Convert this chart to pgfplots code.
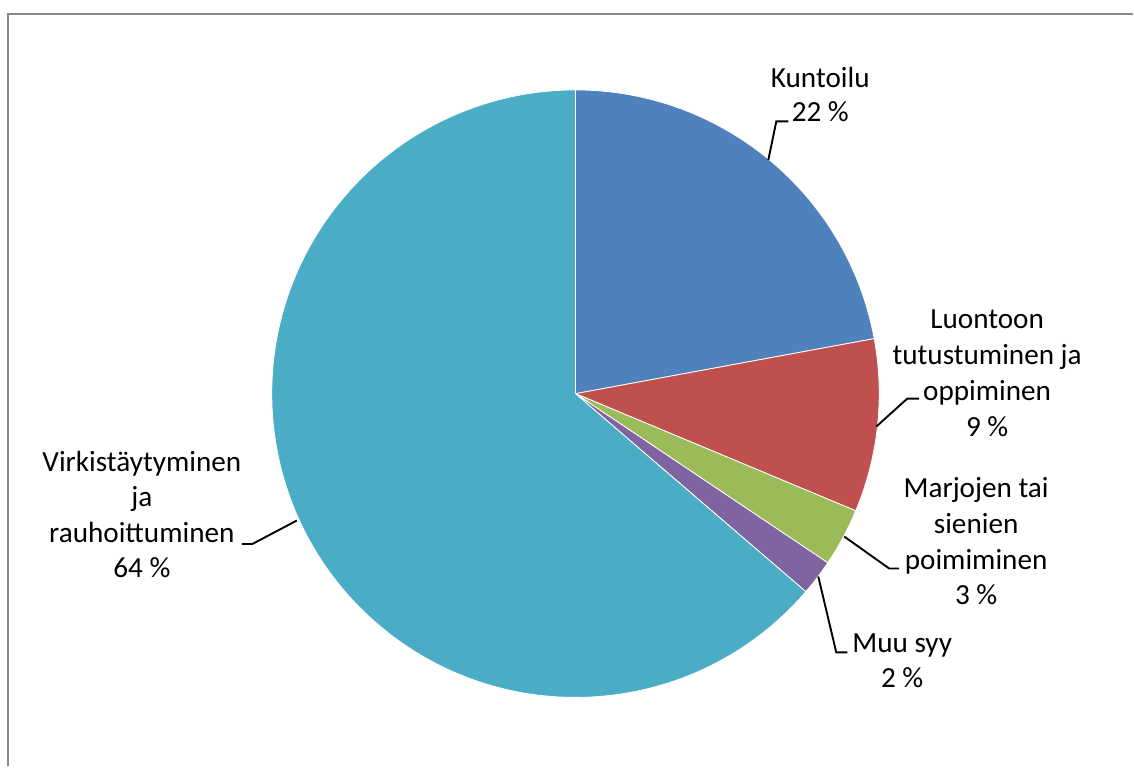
\documentclass[border=0pt]{standalone}
\usepackage{pgfplots}
\usepackage{pgfplotstable}
\pgfplotsset{compat=1.18}
\usepackage{fontspec}
\setmainfont{Carlito}
\definecolor{cA}{HTML}{4F81BD}
\definecolor{cB}{HTML}{C0504D}
\definecolor{cC}{HTML}{9BBB59}
\definecolor{cD}{HTML}{8064A2}
\definecolor{cE}{HTML}{4BACC6}
\definecolor{frame}{HTML}{878787}
\pgfplotstableread{
label value
Kuntoilu 22.1
Luontoon 9.2
Marjojen 3.1
Muu 1.9
Virkistaytyminen 63.7
}\piedata
\begin{document}
\begin{tikzpicture}
\pgfplotstablegetelem{0}{value}\of\piedata\let\vA\pgfplotsretval
\pgfplotstablegetelem{1}{value}\of\piedata\let\vB\pgfplotsretval
\pgfplotstablegetelem{2}{value}\of\piedata\let\vC\pgfplotsretval
\pgfplotstablegetelem{3}{value}\of\piedata\let\vD\pgfplotsretval
\pgfplotstablegetelem{4}{value}\of\piedata\let\vE\pgfplotsretval
\pgfmathsetmacro\tA{90}
\pgfmathsetmacro\tB{\tA-3.6*\vA}
\pgfmathsetmacro\tC{\tB-3.6*\vB}
\pgfmathsetmacro\tD{\tC-3.6*\vC}
\pgfmathsetmacro\tE{\tD-3.6*\vD}
\pgfmathsetmacro\tF{\tE-3.6*\vE}
\begin{axis}[
  x=0.5pt, y=0.5pt, y dir=reverse,
  xmin=0, xmax=1134, ymin=0, ymax=767,
  hide axis, clip=false, enlargelimits=false,
]
\path (axis cs:0,0) rectangle (axis cs:1134,767);
\draw[frame, line width=1pt] (axis cs:7.9,767) -- (axis cs:7.9,13.9) -- (axis cs:1134,13.9);
\newcommand\slice[3]{\fill[#1, draw=white, line width=0.4pt] (axis cs:576,394) -- ++(#2:152pt) arc[start angle=#2, end angle=#3, radius=152pt] -- cycle;}
\slice{cA}{\tA}{\tB}
\slice{cB}{\tB}{\tC}
\slice{cC}{\tC}{\tD}
\slice{cD}{\tD}{\tE}
\slice{cE}{\tE}{\tF}
% leader lines
\tikzset{lead/.style={black, line width=0.95pt}}
\draw[lead] (axis cs:769,160) -- (axis cs:777,121.5) -- (axis cs:789,121.5);
\draw[lead] (axis cs:877,427) -- (axis cs:908,399) -- (axis cs:920,399);
\draw[lead] (axis cs:845,537) -- (axis cs:890,569) -- (axis cs:900,569);
\draw[lead] (axis cs:819,577) -- (axis cs:837,653) -- (axis cs:848,653);
\draw[lead] (axis cs:297,521) -- (axis cs:252.5,544.5) -- (axis cs:242,544.5);
% labels
\tikzset{lbl/.style={anchor=base, inner sep=0pt, outer sep=0pt, font=\fontsize{14.6}{17.5}\selectfont}}
\node[lbl] at (axis cs:821,87.5) {Kuntoilu};
\node[lbl] at (axis cs:821,122) {22 \%};
\node[lbl] at (axis cs:988,329) {Luontoon};
\node[lbl] at (axis cs:988,365) {tutustuminen ja};
\node[lbl] at (axis cs:988,401) {oppiminen};
\node[lbl] at (axis cs:988,436.5) {9 \%};
\node[lbl] at (axis cs:977,498) {Marjojen tai};
\node[lbl] at (axis cs:977,533.5) {sienien};
\node[lbl] at (axis cs:977,569.5) {poimiminen};
\node[lbl] at (axis cs:977,605) {3 \%};
\node[lbl] at (axis cs:903,653) {Muu syy};
\node[lbl] at (axis cs:903,688) {2 \%};
\node[lbl] at (axis cs:142,471.5) {Virkistäytyminen};
\node[lbl] at (axis cs:142,507) {ja};
\node[lbl] at (axis cs:142,543) {rauhoittuminen};
\node[lbl] at (axis cs:142,578) {64 \%};
\end{axis}
\end{tikzpicture}
\end{document}
